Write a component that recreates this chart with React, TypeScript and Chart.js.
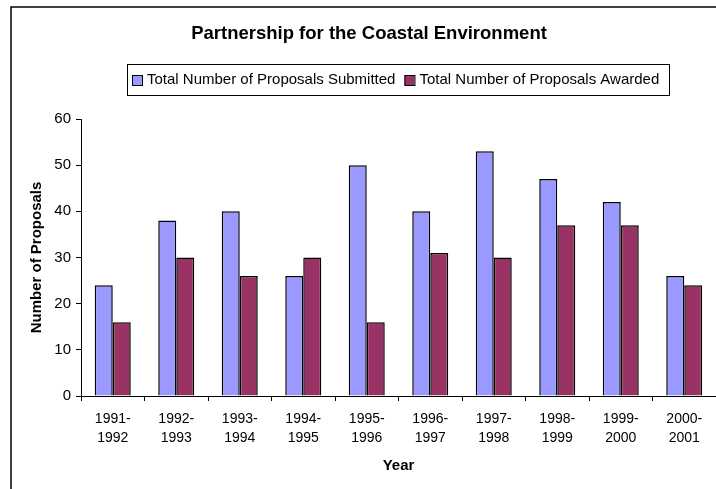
import React, { useEffect, useRef } from "react";
import { Chart, registerables } from "chart.js";

Chart.register(...registerables);

const years = [
  "1991-1992", "1992-1993", "1993-1994", "1994-1995", "1995-1996",
  "1996-1997", "1997-1998", "1998-1999", "1999-2000", "2000-2001",
];
const submitted = [24, 38, 40, 26, 50, 40, 53, 47, 42, 26];
const awarded = [16, 30, 26, 30, 16, 31, 30, 37, 37, 24];
const yTicks = { min: 0, max: 60, step: 10 };

const titleText = "Partnership for the Coastal Environment";
const seriesNames = [
  "Total Number of Proposals Submitted",
  "Total Number of Proposals Awarded",
];
const xTitle = "Year";
const yTitle = "Number of Proposals";

const FONT = '"Liberation Sans", Arial, sans-serif';

const framePlugin = {
  id: "frame",
  beforeDraw(chart: any) {
    const ctx = chart.ctx;
    ctx.save();
    ctx.fillStyle = "#ffffff";
    ctx.fillRect(0, 0, chart.width, chart.height);
    ctx.strokeStyle = "#000000";
    ctx.lineWidth = 1.5;
    ctx.beginPath();
    ctx.moveTo(11, chart.height);
    ctx.lineTo(11, 7);
    ctx.lineTo(chart.width, 7);
    ctx.stroke();
    // title
    ctx.fillStyle = "#000";
    ctx.font = `bold 18.5px ${FONT}`;
    ctx.textAlign = "center";
    ctx.textBaseline = "middle";
    ctx.fillText(titleText, 369, 34);
    ctx.restore();
  },
  afterDraw(chart: any) {
    const ctx = chart.ctx;
    ctx.save();
    const left = 127, top = 64, right = 669, bottom = 95;
    ctx.strokeStyle = "#000";
    ctx.lineWidth = 1;
    ctx.strokeRect(left + 0.5, top + 0.5, right - left, bottom - top);
    ctx.font = `15px ${FONT}`;
    ctx.textBaseline = "middle";
    ctx.textAlign = "left";
    const cy = (top + bottom) / 2 + 0.5;
    let x = 132;
    chart.data.datasets.forEach((ds: any) => {
      ctx.fillStyle = ds.backgroundColor;
      ctx.fillRect(x, cy - 5, 10, 10);
      ctx.strokeStyle = "#000";
      ctx.strokeRect(x + 0.5, cy - 4.5, 10, 10);
      ctx.fillStyle = "#000";
      ctx.fillText(ds.label, x + 15, cy);
      x += 15 + ctx.measureText(ds.label).width + 9;
    });
    ctx.restore();
  },
};

export default function App() {
  const ref = useRef<HTMLCanvasElement>(null);
  useEffect(() => {
    if (!ref.current) return;
    const labels = years.map((y) => {
      const [a, b] = y.split("-");
      return [a + "-", b];
    });
    const chart = new Chart(ref.current, {
      type: "bar",
      data: {
        labels,
        datasets: [
          {
            label: seriesNames[0],
            data: submitted,
            backgroundColor: "#9999FF",
            borderColor: "#000000",
            borderWidth: 1.5,
          },
          {
            label: seriesNames[1],
            data: awarded,
            backgroundColor: "#993366",
            borderColor: "#000000",
            borderWidth: 1.5,
          },
        ],
      },
      options: {
        responsive: false,
        animation: false,
        devicePixelRatio: 1,
        layout: { padding: { top: 119, left: 0, right: 0, bottom: 0 } },
        datasets: { bar: { categoryPercentage: 0.567, barPercentage: 1.0 } },
        plugins: {
          legend: { display: false },
          title: { display: false },
          tooltip: { enabled: false },
        },
        scales: {
          x: {
            afterFit(scale: any) { scale.height = 93; },
            grid: {
              display: true,
              drawOnChartArea: false,
              drawTicks: true,
              tickLength: 5,
              color: "#000",
              offset: true,
            },
            border: { display: true, color: "#000", width: 1 },
            ticks: {
              color: "#000",
              font: { family: FONT, size: 14, lineHeight: 1.4 },
              padding: 8,
              maxRotation: 0,
              autoSkip: false,
            },
            title: {
              display: true,
              text: xTitle,
              color: "#000",
              font: { family: FONT, size: 15, weight: "bold", lineHeight: 1.2 },
              padding: { top: 0, bottom: 14 },
            },
          },
          y: {
            min: yTicks.min,
            max: yTicks.max,
            afterFit(scale: any) { scale.width = 81; },
            grid: {
              display: true,
              drawOnChartArea: false,
              drawTicks: true,
              tickLength: 5,
              color: "#000",
            },
            border: { display: true, color: "#000", width: 1 },
            ticks: {
              stepSize: yTicks.step,
              color: "#000",
              font: { family: FONT, size: 15 },
              padding: 5,
            },
            title: {
              display: true,
              text: yTitle,
              color: "#000",
              font: { family: FONT, size: 15, weight: "bold", lineHeight: 1.2 },
              padding: { top: 28, bottom: 0 },
            },
          },
        },
      },
      plugins: [framePlugin],
    });
    return () => chart.destroy();
  }, []);
  return (
    <div style={{ position: "absolute", left: 0, top: 0, width: 716, height: 489, overflow: "hidden" }}>
      <canvas ref={ref} width={716} height={489} style={{ display: "block" }} />
    </div>
  );
}
